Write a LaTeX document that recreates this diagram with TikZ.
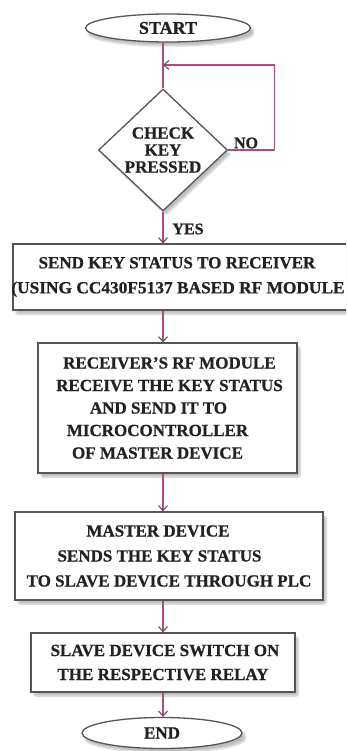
\documentclass[tikz,border=0pt]{standalone}
\usepackage{fontspec}
\setmainfont{Liberation Serif}[BoldFeatures={FakeBold=0.8}]
\usetikzlibrary{shapes.geometric,arrows.meta,shadows.blur}
\definecolor{flowc}{HTML}{B04A80}
\definecolor{edgec}{HTML}{555555}
\definecolor{txtc}{HTML}{222222}
\definecolor{tipc}{HTML}{6A4A5E}
\tikzset{
  x=1pt, y=-1pt,
  shd/.style={blur shadow={shadow blur steps=6, shadow xshift=3pt, shadow yshift=-4pt, shadow opacity=25, shadow blur extra rounding=2pt}},
  procbox/.style={draw=edgec, line width=1.3pt, fill=white, shd, inner sep=0pt, align=center, text=txtc},
  term/.style={ellipse, draw=edgec, line width=1.3pt, fill=white, shd, inner sep=0pt, text=txtc},
  decision/.style={diamond, draw=edgec, line width=1.3pt, fill=white, shd, inner sep=0pt, align=center, text=txtc, font=\bfseries\fontsize{17}{17}\selectfont},
  flow/.style={draw=flowc, line width=1.3pt},
  arr/.style={flow, -{Straight Barb[length=5pt,width=9pt,line width=1.1pt,color=tipc]}},
  lbl/.style={text=txtc, font=\bfseries\fontsize{16}{16}\selectfont, inner sep=0pt}
}
\begin{document}
\begin{tikzpicture}
\useasboundingbox (0,0) rectangle (346,751);
\begin{scope}
\clip (0,0) rectangle (346,751);
\node[term, minimum width=165pt, minimum height=28pt, font=\bfseries\fontsize{18}{18}\selectfont] (start) at (168,28) {START};
\node[decision, minimum width=129pt, minimum height=120pt] (dia) at (163,150) {CHECK\\KEY\\PRESSED};
\node[procbox, minimum width=339pt, minimum height=66pt, font=\bfseries\fontsize{17}{25}\selectfont] (b1) at (182.5,277) {\hspace*{-11pt}SEND KEY STATUS TO RECEIVER\\\hspace*{-9pt}\scalebox{1.02}[1]{(USING CC430F5137 BASED RF MODULE}};
\node[procbox, minimum width=259pt, minimum height=130pt, font=\bfseries\fontsize{17}{22.5}\selectfont] (b2) at (167.5,408) {\hspace*{4pt}RECEIVER'S RF MODULE\\\hspace*{4pt}RECEIVE THE KEY STATUS\\\hspace*{-18pt}AND SEND IT TO\\\hspace*{-20pt}MICROCONTROLLER\\\hspace*{-20pt}OF MASTER DEVICE};
\node[procbox, minimum width=308pt, minimum height=88pt, font=\bfseries\fontsize{17}{25}\selectfont] (b3) at (169,556) {\hspace*{-22pt}MASTER DEVICE\\\hspace*{-19pt}SENDS THE KEY STATUS\\TO SLAVE DEVICE THROUGH PLC};
\node[procbox, minimum width=264pt, minimum height=59pt, font=\bfseries\fontsize{17}{24}\selectfont] (b4) at (163,662.5) {\hspace*{4pt}SLAVE DEVICE SWITCH ON\\THE RESPECTIVE RELAY};
\node[term, minimum width=160pt, minimum height=31pt, font=\bfseries\fontsize{17}{17}\selectfont] (end) at (162,733) {END};
\coordinate (loopend) at (163,65);
\draw[flow] (dia.north |- start.south) -- (dia.north);
\draw[arr] (dia.east) -- ++(46,0) |- (loopend);
\draw[arr] (dia.south) -- (dia.south |- b1.north);
\draw[arr] (dia.south |- b1.south) -- (dia.south |- b2.north);
\draw[arr] (dia.south |- b2.south) -- (dia.south |- b3.north);
\draw[arr] (dia.south |- b3.south) -- (dia.south |- b4.north);
\draw[arr] (dia.south |- b4.south) -- (dia.south |- end.north);
\node[lbl] (no) at (246,143) {NO};
\node[lbl] (yes) at (188,229) {YES};
\end{scope}
\end{tikzpicture}
\end{document}
